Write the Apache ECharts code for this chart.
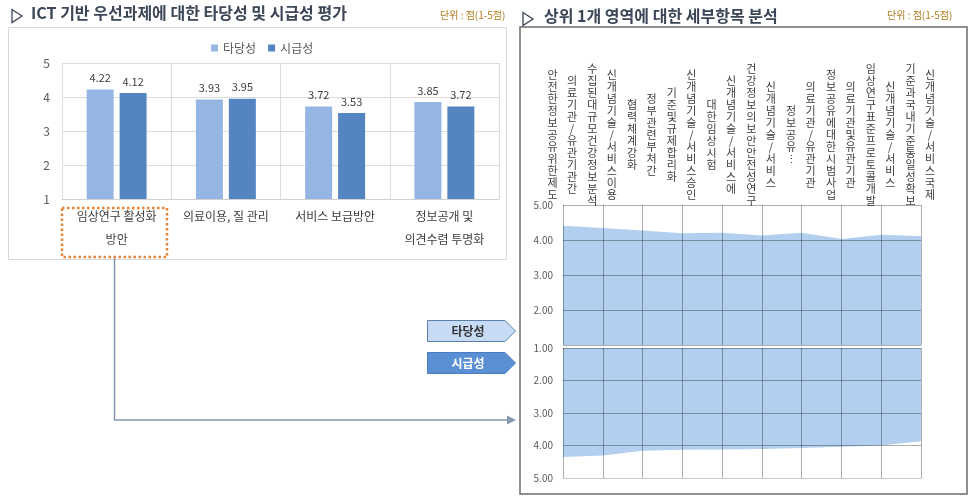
<!DOCTYPE html>
<html>
<head>
<meta charset="utf-8">
<script src="https://cdn.jsdelivr.net/npm/echarts@6/dist/echarts.min.js"></script>
<style>
html,body{margin:0;padding:0;background:#fff;}
#c{width:969px;height:496px;}
</style>
</head>
<body>
<div id="c"></div>
<script>
// ---- Data ----
const areaCategories = ['임상연구 활성화\n방안', '의료이용, 질 관리', '서비스 보급방안', '정보공개 및\n의견수렴 투명화'];
const validityScores = [4.22, 3.93, 3.72, 3.85];   // 타당성
const urgencyScores  = [4.12, 3.95, 3.53, 3.72];   // 시급성
const seriesNames = ['타당성', '시급성'];

const detailLine1 = ['의료기관/유관기관 간', '신개념기술/서비스 이용', '정부 관련 부처 간', '신개념기술/서비스 승인', '신개념기술/서비스에',
                     '신개념기술/서비스', '의료기관/유관기관', '의료기관 및 유관기관', '신개념기술/서비스', '신개념기술/서비스 국제'];
const detailLine2 = ['안전한 정보공유 위한 제도', '수집된 대규모 건강정보 분석', '협력체계 강화', '기준 및 규제 합리화', '대한 임상시험',
                     '건강정보의 보안안전성 연구', '정보공유⋮', '정보 공유에 대한 시범사업', '임상연구 표준프로토콜 개발', '기준과 국내기준 통일성 확보'];
const detailValidity = [4.41, 4.34, 4.27, 4.19, 4.21, 4.13, 4.21, 4.03, 4.15, 4.11];
const detailUrgency  = [4.35, 4.31, 4.16, 4.13, 4.12, 4.11, 4.08, 4.04, 4.00, 3.87];
const scaleTicks = [1, 2, 3, 4, 5];

const detailIdx = detailLine1.map((_, i) => String(i));

// ---- Styles ----
const FONT = '"Noto Sans CJK KR", "Noto Sans", sans-serif';
const lightBlue = '#95b6e2';
const darkBlue = '#5585c1';
const vertical = s => s.replace(/ /g, '').split('').join('\n');

const chart = echarts.init(document.getElementById('c'), null, {renderer: 'canvas'});

const option = {
  animation: false,
  textStyle: {fontFamily: FONT},
  legend: {
    data: seriesNames, left: 206, top: 37, itemWidth: 7, itemHeight: 7, itemGap: 12,
    textStyle: {fontSize: 12, color: '#595959', fontFamily: FONT}, icon: 'rect'
  },
  grid: [
    {left: 62, top: 63, width: 437, height: 136},
    {left: 563, top: 205, width: 358, height: 140},
    {left: 563, top: 348, width: 358, height: 130}
  ],
  xAxis: [
    {
      type: 'category', gridIndex: 0, data: areaCategories, boundaryGap: true,
      axisLine: {lineStyle: {color: '#d0d0d0'}}, axisTick: {show: false},
      splitLine: {show: true, lineStyle: {color: '#dcdcdc'}},
      axisLabel: {interval: 0, fontSize: 12, color: '#404040', margin: 6, lineHeight: 23, fontFamily: FONT}
    },
    {
      type: 'category', gridIndex: 1, data: detailIdx, boundaryGap: false, position: 'top', z: 10,
      axisLine: {show: false}, axisTick: {show: false},
      splitLine: {show: true, lineStyle: {color: 'rgba(0,0,0,0.32)'}},
      axisLabel: {interval: 0, hideOverlap: false, fontSize: 11, lineHeight: 12, color: '#404040', margin: 70,
        verticalAlign: 'middle', align: 'center', padding: [0, 0, 0, 18], fontFamily: FONT,
        formatter: (v) => vertical(detailLine1[+v])}
    },
    {
      type: 'category', gridIndex: 1, data: detailIdx, boundaryGap: false, position: 'top',
      axisLine: {show: false}, axisTick: {show: false}, splitLine: {show: false},
      axisLabel: {interval: 0, hideOverlap: false, fontSize: 11, lineHeight: 12, color: '#404040', margin: 70,
        verticalAlign: 'middle', align: 'center', padding: [0, 21, 0, 0], fontFamily: FONT,
        formatter: (v) => vertical(detailLine2[+v])}
    },
    {
      type: 'category', gridIndex: 2, data: detailIdx, boundaryGap: false, position: 'bottom', z: 10,
      axisLine: {show: true, lineStyle: {color: '#c8c8c8'}}, axisTick: {show: false}, axisLabel: {show: false},
      splitLine: {show: true, lineStyle: {color: 'rgba(0,0,0,0.32)'}}
    }
  ],
  yAxis: [
    {
      type: 'value', gridIndex: 0, min: 1, max: 5, interval: 1,
      axisLine: {show: false}, axisTick: {show: false},
      splitLine: {lineStyle: {color: '#dcdcdc'}},
      axisLabel: {fontSize: 12, color: '#595959', margin: 12, fontFamily: FONT}
    },
    {
      type: 'value', gridIndex: 1, min: 1, max: 5, interval: 1, z: 10,
      axisLine: {show: false}, axisTick: {show: false},
      splitLine: {lineStyle: {color: 'rgba(0,0,0,0.32)'}},
      axisLabel: {fontSize: 10, color: '#595959', margin: 10, fontFamily: FONT,
        formatter: v => v.toFixed(2), showMinLabel: false}
    },
    {
      type: 'value', gridIndex: 2, min: 1, max: 5, interval: 1, inverse: true, z: 10,
      axisLine: {show: false}, axisTick: {show: false},
      splitLine: {lineStyle: {color: 'rgba(0,0,0,0.32)'}},
      axisLabel: {fontSize: 10, color: '#595959', margin: 10, fontFamily: FONT,
        formatter: v => v.toFixed(2)}
    }
  ],
  series: [
    {
      name: seriesNames[0], type: 'bar', xAxisIndex: 0, yAxisIndex: 0, data: validityScores,
      barWidth: 27, barGap: '22%', itemStyle: {color: lightBlue},
      label: {show: true, position: 'top', distance: 6, fontSize: 11, color: '#404040', fontFamily: FONT,
        formatter: p => p.value.toFixed(2)}
    },
    {
      name: seriesNames[1], type: 'bar', xAxisIndex: 0, yAxisIndex: 0, data: urgencyScores,
      barWidth: 27, barGap: '22%', itemStyle: {color: darkBlue},
      label: {show: true, position: 'top', distance: 6, fontSize: 11, color: '#404040', fontFamily: FONT,
        formatter: p => p.value.toFixed(2)}
    },
    {
      name: 'detailValidity', type: 'line', xAxisIndex: 1, yAxisIndex: 1, data: detailValidity,
      showSymbol: false, symbol: 'none', lineStyle: {width: 0},
      areaStyle: {color: '#b2cfef', opacity: 1, origin: 'start'}
    },
    {
      name: 'detailUrgency', type: 'line', xAxisIndex: 3, yAxisIndex: 2, data: detailUrgency,
      showSymbol: false, symbol: 'none', lineStyle: {width: 0},
      areaStyle: {color: '#b2cfef', opacity: 1, origin: 'start'}
    }
  ],
  graphic: [
    // boxes
    {type: 'rect', z: -1, shape: {x: 8.5, y: 27.5, width: 498, height: 232}, style: {fill: 'none', stroke: '#d9d9d9', lineWidth: 1}},
    {type: 'rect', z: -1, shape: {x: 520, y: 27, width: 447, height: 467}, style: {fill: '#fff', stroke: '#6b6b6b', lineWidth: 1.5}},
    // title triangles
    {type: 'polygon', shape: {points: [[12, 9.5], [22, 16], [12, 22.5]]}, style: {fill: 'none', stroke: '#3c4657', lineWidth: 1.3}},
    {type: 'polygon', shape: {points: [[523, 12.5], [533, 19], [523, 25.5]]}, style: {fill: 'none', stroke: '#3c4657', lineWidth: 1.3}},
    {type: 'text', left: 31, top: 5, style: {text: 'ICT 기반 우선과제에 대한 타당성 및 시급성 평가', font: 'bold 16px ' + FONT, fill: '#3c4657'}},
    {type: 'text', left: 544, top: 8, z: 5, style: {text: '상위 1개 영역에 대한 세부항목 분석', font: 'bold 16px ' + FONT, fill: '#3c4657'}},
    {type: 'text', left: 440, top: 10, style: {text: '단위 : 점(1-5점)', font: '10px ' + FONT, fill: '#b07a1a'}},
    {type: 'text', left: 887, top: 10, z: 5, style: {text: '단위 : 점(1-5점)', font: '10px ' + FONT, fill: '#b07a1a'}},
    // dotted highlight box
    {type: 'rect', shape: {x: 62, y: 208, width: 105, height: 49}, style: {fill: 'none', stroke: '#e8843a', lineWidth: 2.5, lineDash: [2.5, 2.5]}},
    // connector
    {type: 'polyline', shape: {points: [[114.5, 258], [114.5, 420], [508, 420]]}, style: {fill: 'none', stroke: '#8496b0', lineWidth: 1.5}},
    {type: 'polygon', shape: {points: [[516, 420], [507, 415.5], [507, 424.5]]}, style: {fill: '#8496b0'}},
    // tags
    {type: 'polygon', shape: {points: [[427.5, 320.5], [505, 320.5], [515.5, 331], [505, 341.5], [427.5, 341.5]]},
      style: {fill: '#c7dcf4', stroke: '#5b7fad', lineWidth: 1}},
    {type: 'text', x: 468, y: 331, style: {text: '타당성', font: 'bold 12px ' + FONT, fill: '#333', textAlign: 'center', textVerticalAlign: 'middle'}},
    {type: 'polygon', shape: {points: [[427.5, 352.5], [505, 352.5], [515.5, 363], [505, 373.5], [427.5, 373.5]]},
      style: {fill: '#5b8fd4', stroke: '#4b7cc0', lineWidth: 1}},
    {type: 'text', x: 468, y: 363, style: {text: '시급성', font: 'bold 12px ' + FONT, fill: '#fff', textAlign: 'center', textVerticalAlign: 'middle'}}
  ]
};
chart.setOption(option);
</script>
</body>
</html>
